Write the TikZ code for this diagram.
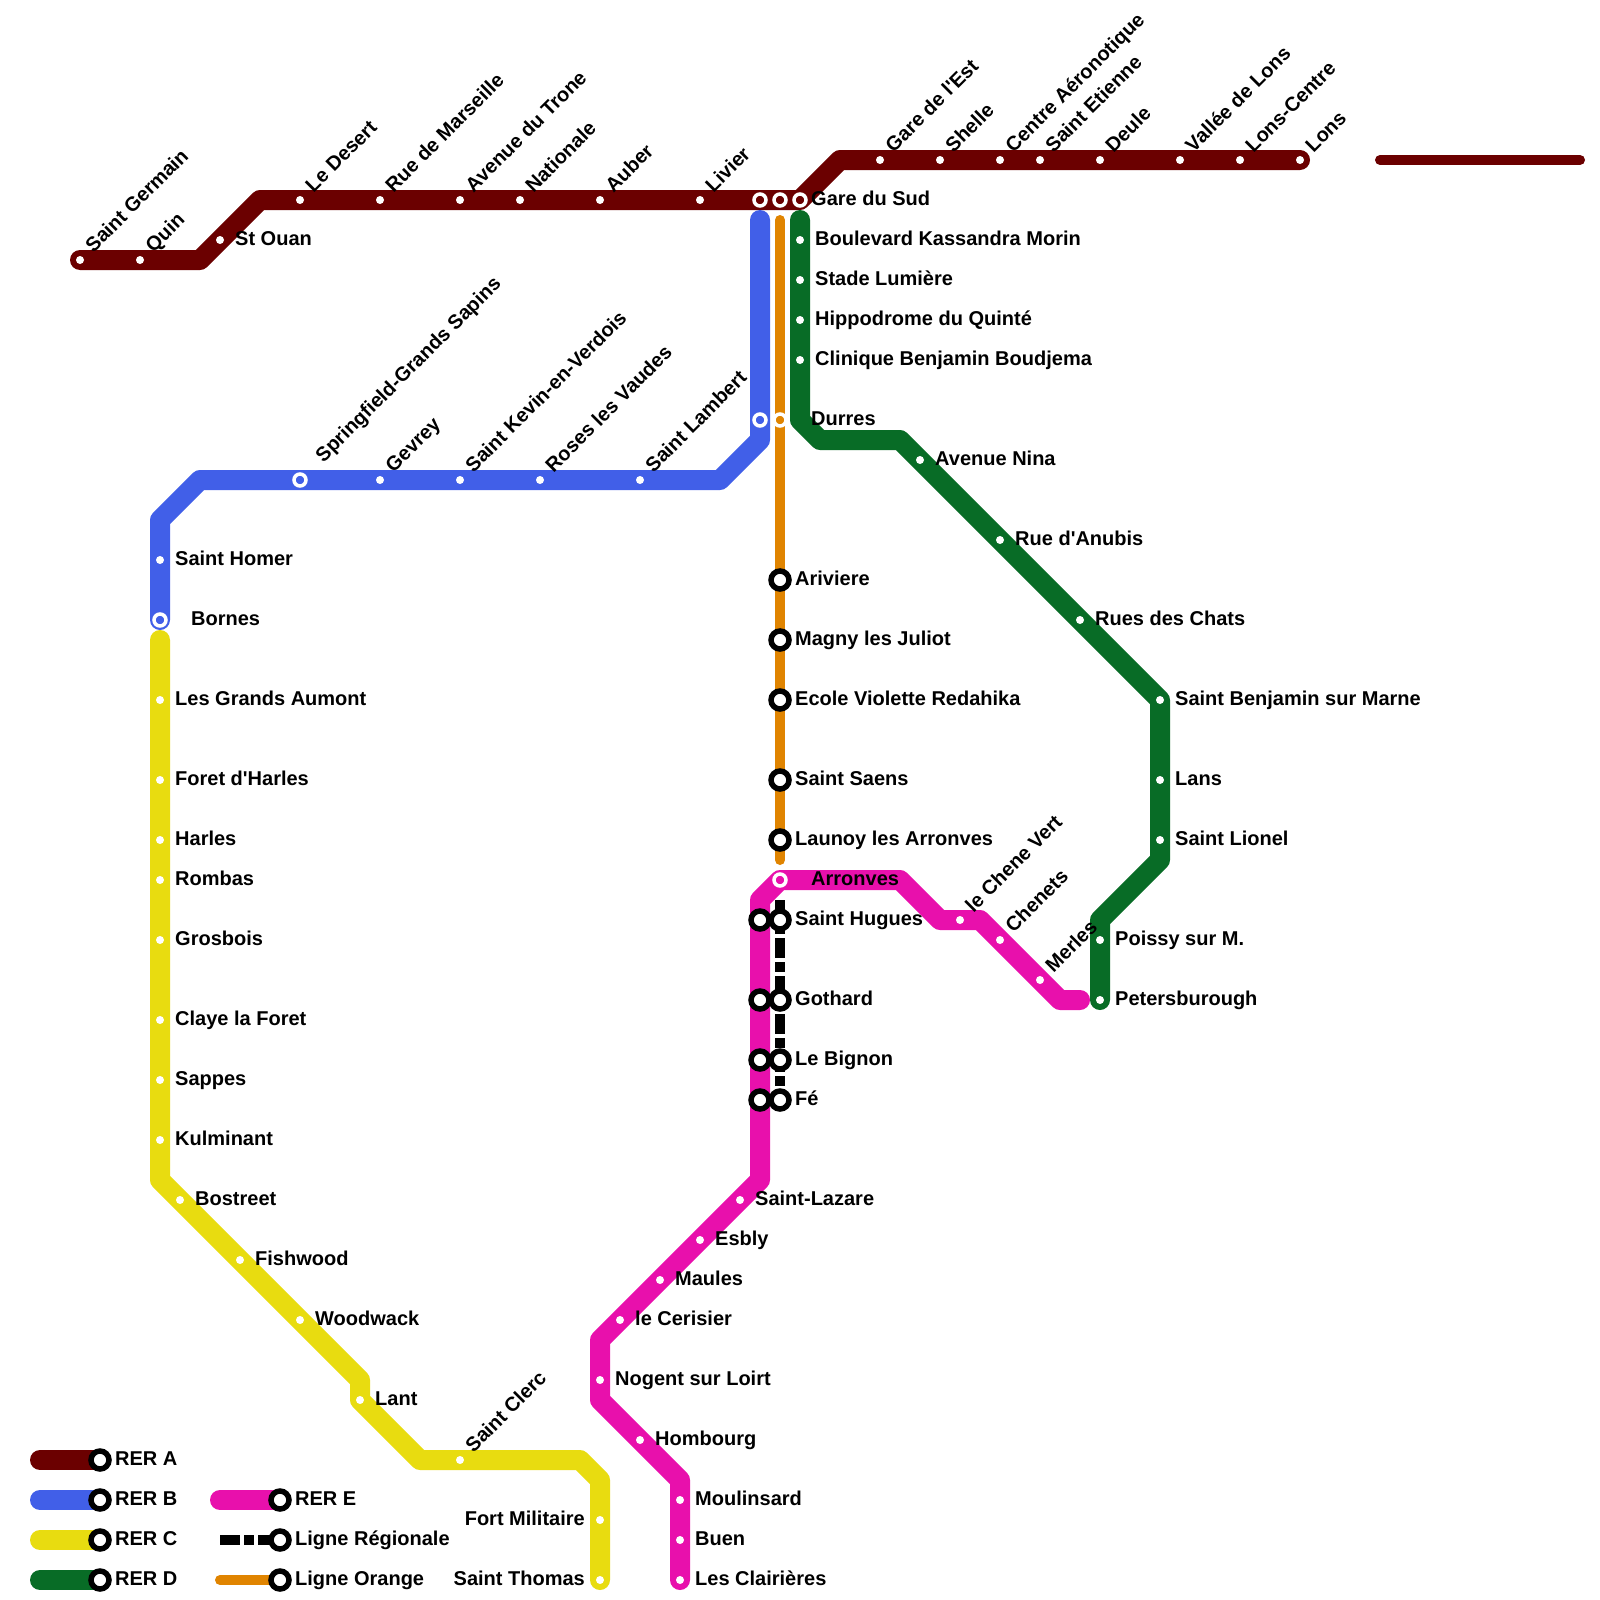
\documentclass[tikz,border=0pt]{standalone}
\usepackage{fontspec}
\setmainfont{Liberation Sans}[BoldFont={Liberation Sans Bold},Ligatures=TeXOff]
\definecolor{rera}{HTML}{6B0000}
\definecolor{rerb}{HTML}{415FE8}
\definecolor{rerc}{HTML}{E8DC10}
\definecolor{rerd}{HTML}{086C26}
\definecolor{rere}{HTML}{E810AC}
\definecolor{lorange}{HTML}{E08400}
\tikzset{
  railthick/.style={line width=20pt,line cap=round,line join=round},
  railthin/.style={line width=10pt,line cap=round,line join=round},
  regio/.style={line width=10pt,line cap=butt,black,dash pattern=on 20pt off 4pt on 10pt off 4pt},
  stdot/.style={circle,fill=white,draw=none,inner sep=0pt,minimum size=8pt},
  wring/.style={circle,draw=white,line width=3.5pt,inner sep=0pt,minimum size=12pt},
  bring/.style={circle,draw=black,fill=white,line width=5.5pt,inner sep=0pt,minimum size=18pt},
  txt/.style={font=\fontsize{20pt}{22pt}\selectfont\bfseries,inner sep=0pt,text=black},
  lr/.style={txt,xshift=15pt,yshift=-5pt,anchor=base west},
  ll/.style={txt,xshift=-15pt,yshift=-5pt,anchor=base east},
  lu/.style={txt,xshift=13.5pt,yshift=6.5pt,rotate=45,anchor=base west},
}
\begin{document}
\begin{tikzpicture}[x=1pt,y=-1pt]
\useasboundingbox (0,0) rectangle (1600,1600);
\fill[white] (0,0) rectangle (1600,1600);
% --- line A
\coordinate (sg) at (80,260);
\coordinate (qn) at (140,260);
\coordinate (a1) at (200,260);
\coordinate (so) at (220,240);
\coordinate (a2) at (260,200);
\coordinate (ld) at (300,200);
\coordinate (rm) at (380,200);
\coordinate (at) at (460,200);
\coordinate (na) at (520,200);
\coordinate (au) at (600,200);
\coordinate (li) at (700,200);
\coordinate (xab) at (760,200);
\coordinate (xao) at (780,200);
\coordinate (gs) at (800,200);
\coordinate (a3) at (840,160);
\coordinate (ge) at (880,160);
\coordinate (sh) at (940,160);
\coordinate (ca) at (1000,160);
\coordinate (se) at (1040,160);
\coordinate (de) at (1100,160);
\coordinate (vl) at (1180,160);
\coordinate (lc) at (1240,160);
\coordinate (lo) at (1300,160);
\coordinate (a4) at (1380,160);
\coordinate (a5) at (1580,160);
% --- line B
\coordinate (b0) at (760,220);
\coordinate (xbo) at (760,420);
\coordinate (b1) at (760,440);
\coordinate (b2) at (720,480);
\coordinate (sl) at (640,480);
\coordinate (rv) at (540,480);
\coordinate (sk) at (460,480);
\coordinate (gv) at (380,480);
\coordinate (sp) at (300,480);
\coordinate (b3) at (200,480);
\coordinate (b4) at (160,520);
\coordinate (hm) at (160,560);
\coordinate (bn) at (160,620);
% --- line C
\coordinate (c0) at (160,640);
\coordinate (ga) at (160,700);
\coordinate (fh) at (160,780);
\coordinate (ha) at (160,840);
\coordinate (ro) at (160,880);
\coordinate (gr) at (160,940);
\coordinate (cf) at (160,1020);
\coordinate (sa) at (160,1080);
\coordinate (ku) at (160,1140);
\coordinate (c1) at (160,1180);
\coordinate (bo) at (180,1200);
\coordinate (fw) at (240,1260);
\coordinate (ww) at (300,1320);
\coordinate (c2) at (360,1380);
\coordinate (la) at (360,1400);
\coordinate (c3) at (420,1460);
\coordinate (sc) at (460,1460);
\coordinate (c4) at (580,1460);
\coordinate (c5) at (600,1480);
\coordinate (fm) at (600,1520);
\coordinate (st) at (600,1580);
% --- line D
\coordinate (d0) at (800,220);
\coordinate (bk) at (800,240);
\coordinate (sm) at (800,280);
\coordinate (hq) at (800,320);
\coordinate (cb) at (800,360);
\coordinate (du) at (800,420);
\coordinate (d1) at (820,440);
\coordinate (d2) at (900,440);
\coordinate (an) at (920,460);
\coordinate (ra) at (1000,540);
\coordinate (rc) at (1080,620);
\coordinate (sb) at (1160,700);
\coordinate (ln) at (1160,780);
\coordinate (sn) at (1160,840);
\coordinate (d3) at (1160,860);
\coordinate (d4) at (1100,920);
\coordinate (ps) at (1100,940);
\coordinate (pb) at (1100,1000);
% --- line E
\coordinate (e0) at (1080,1000);
\coordinate (e1) at (1060,1000);
\coordinate (me) at (1040,980);
\coordinate (cn) at (1000,940);
\coordinate (e2) at (980,920);
\coordinate (cv) at (960,920);
\coordinate (e3) at (940,920);
\coordinate (e4) at (900,880);
\coordinate (ar) at (780,880);
\coordinate (e5) at (760,900);
\coordinate (xe1) at (760,920);
\coordinate (xe2) at (760,1000);
\coordinate (xe3) at (760,1060);
\coordinate (xe4) at (760,1100);
\coordinate (e6) at (760,1180);
\coordinate (sz) at (740,1200);
\coordinate (es) at (700,1240);
\coordinate (ma) at (660,1280);
\coordinate (ce) at (620,1320);
\coordinate (e7) at (600,1340);
\coordinate (nl) at (600,1380);
\coordinate (e8) at (600,1400);
\coordinate (hb) at (640,1440);
\coordinate (e9) at (680,1480);
\coordinate (ml) at (680,1500);
\coordinate (bu) at (680,1540);
\coordinate (lr) at (680,1580);
% --- orange and regional
\coordinate (o0) at (780,220);
\coordinate (xoo) at (780,420);
\coordinate (av) at (780,580);
\coordinate (mj) at (780,640);
\coordinate (ev) at (780,700);
\coordinate (ss) at (780,780);
\coordinate (lz) at (780,840);
\coordinate (o1) at (780,860);
\coordinate (r0) at (780,900);
\coordinate (hu) at (780,920);
\coordinate (go) at (780,1000);
\coordinate (bg) at (780,1060);
\coordinate (fe) at (780,1100);
% --- legend points
\coordinate (kas) at (40,1460);  \coordinate (kae) at (100,1460);
\coordinate (kbs) at (40,1500);  \coordinate (kbe) at (100,1500);
\coordinate (kcs) at (40,1540);  \coordinate (kce) at (100,1540);
\coordinate (kds) at (40,1580);  \coordinate (kde) at (100,1580);
\coordinate (kes) at (220,1500); \coordinate (kee) at (280,1500);
\coordinate (krs) at (220,1540); \coordinate (kre) at (280,1540);
\coordinate (kos) at (220,1580); \coordinate (koe) at (280,1580);
% --- rails
\draw[railthin,rera] (a4) -- (a5);
\draw[railthick,rera] (sg) -- (a1) -- (a2) -- (gs) -- (a3) -- (lo);
\draw[railthin,lorange] (o0) -- (o1);
\draw[railthick,rerb] (b0) -- (b1) -- (b2) -- (b3) -- (b4) -- (bn);
\draw[railthick,rerc] (c0) -- (c1) -- (c2) -- (la) -- (c3) -- (c4) -- (c5) -- (st);
\draw[railthick,rerd] (d0) -- (du) -- (d1) -- (d2) -- (sb) -- (d3) -- (d4) -- (pb);
\draw[railthick,rere] (e0) -- (e1) -- (e2) -- (e3) -- (e4) -- (ar) -- (e5) -- (e6) -- (e7) -- (e8) -- (e9) -- (lr);
\draw[regio] (r0) -- (fe);
% --- legend rails
\draw[railthick,rera] (kas) -- (kae);
\draw[railthick,rerb] (kbs) -- (kbe);
\draw[railthick,rerc] (kcs) -- (kce);
\draw[railthick,rerd] (kds) -- (kde);
\draw[railthick,rere] (kes) -- (kee);
\draw[regio] (krs) -- (kre);
\draw[railthin,lorange] (kos) -- (koe);
% --- plain stations
\foreach \p in {sg,qn,so,ld,rm,at,na,au,li,ge,sh,ca,se,de,vl,lc,lo,
  sl,rv,sk,gv,hm,ga,fh,ha,ro,gr,cf,sa,ku,bo,fw,ww,la,sc,fm,st,
  bk,sm,hq,cb,an,ra,rc,sb,ln,sn,ps,pb,
  me,cn,cv,sz,es,ma,ce,nl,hb,ml,bu,lr}
  \node[stdot] (dot-\p) at (\p) {};
% --- white-ring stations
\node[wring,fill=rera] (rab) at (xab) {};
\node[wring,fill=rera] (rao) at (xao) {};
\node[wring,fill=rera] (rgs) at (gs) {};
\node[wring,fill=rerb] (rbo) at (xbo) {};
\node[wring,fill=lorange] (roo) at (xoo) {};
\node[wring,fill=rerb] (rsp) at (sp) {};
\node[wring,fill=rerb] (rbn) at (bn) {};
\node[wring,fill=rere] (rar) at (ar) {};
% --- black-ring stations
\foreach \p in {av,mj,ev,ss,lz,hu,go,bg,fe,xe1,xe2,xe3,xe4,kae,kbe,kce,kde,kee,kre,koe}
  \node[bring] (ring-\p) at (\p) {};
% --- labels above
\node[lu] (l-sg) at (sg) {Saint Germain};
\node[lu] (l-qn) at (qn) {Quin};
\node[lu] (l-ld) at (ld) {Le Desert};
\node[lu] (l-rm) at (rm) {Rue de Marseille};
\node[lu] (l-at) at (at) {Avenue du Trone};
\node[lu] (l-na) at (na) {Nationale};
\node[lu] (l-au) at (au) {Auber};
\node[lu] (l-li) at (li) {Livier};
\node[lu] (l-ge) at (ge) {Gare de l'Est};
\node[lu] (l-sh) at (sh) {Shelle};
\node[lu] (l-ca) at (ca) {Centre Aéronotique};
\node[lu] (l-se) at (se) {Saint Etienne};
\node[lu] (l-de) at (de) {Deule};
\node[lu] (l-vl) at (vl) {Vallée de Lons};
\node[lu] (l-lc) at (lc) {Lons-Centre};
\node[lu] (l-lo) at (lo) {Lons};
\node[lu] (l-sl) at (sl) {Saint Lambert};
\node[lu] (l-rv) at (rv) {Roses les Vaudes};
\node[lu] (l-sk) at (sk) {Saint Kevin-en-Verdois};
\node[lu] (l-gv) at (gv) {Gevrey};
\node[xshift=10pt,yshift=10pt,lu] (l-sp) at (sp) {Springfield-Grands Sapins};
\node[lu] (l-sc) at (sc) {Saint Clerc};
\node[lu] (l-cv) at (cv) {le Chene Vert};
\node[lu] (l-cn) at (cn) {Chenets};
\node[lu] (l-me) at (me) {Merles};
% --- labels right
\node[lr] (l-so) at (so) {St Ouan};
\node[lr,xshift=-4pt] (l-gs) at (gs) {Gare du Sud};
\node[lr] (l-bk) at (bk) {Boulevard Kassandra Morin};
\node[lr] (l-sm) at (sm) {Stade Lumière};
\node[lr] (l-hq) at (hq) {Hippodrome du Quinté};
\node[lr] (l-cb) at (cb) {Clinique Benjamin Boudjema};
\node[lr,xshift=-4pt] (l-du) at (du) {Durres};
\node[lr] (l-an) at (an) {Avenue Nina};
\node[lr] (l-ra) at (ra) {Rue d'Anubis};
\node[lr] (l-rc) at (rc) {Rues des Chats};
\node[lr] (l-sb) at (sb) {Saint Benjamin sur Marne};
\node[lr] (l-ln) at (ln) {Lans};
\node[lr] (l-sn) at (sn) {Saint Lionel};
\node[lr] (l-ps) at (ps) {Poissy sur M.};
\node[lr] (l-pb) at (pb) {Petersburough};
\node[lr] (l-hm) at (hm) {Saint Homer};
\node[lr,xshift=16pt] (l-bn) at (bn) {Bornes};
\node[lr] (l-ga) at (ga) {Les Grands Aumont};
\node[lr] (l-fh) at (fh) {Foret d'Harles};
\node[lr] (l-ha) at (ha) {Harles};
\node[lr] (l-ro) at (ro) {Rombas};
\node[lr] (l-gr) at (gr) {Grosbois};
\node[lr] (l-cf) at (cf) {Claye la Foret};
\node[lr] (l-sa) at (sa) {Sappes};
\node[lr] (l-ku) at (ku) {Kulminant};
\node[lr] (l-bo) at (bo) {Bostreet};
\node[lr] (l-fw) at (fw) {Fishwood};
\node[lr] (l-ww) at (ww) {Woodwack};
\node[lr] (l-la) at (la) {Lant};
\node[lr] (l-av) at (av) {Ariviere};
\node[lr] (l-mj) at (mj) {Magny les Juliot};
\node[lr] (l-ev) at (ev) {Ecole Violette Redahika};
\node[lr] (l-ss) at (ss) {Saint Saens};
\node[lr] (l-lz) at (lz) {Launoy les Arronves};
\node[lr,xshift=16pt] (l-ar) at (ar) {Arronves};
\node[lr] (l-hu) at (hu) {Saint Hugues};
\node[lr] (l-go) at (go) {Gothard};
\node[lr] (l-bg) at (bg) {Le Bignon};
\node[lr] (l-fe) at (fe) {Fé};
\node[lr] (l-sz) at (sz) {Saint-Lazare};
\node[lr] (l-es) at (es) {Esbly};
\node[lr] (l-ma) at (ma) {Maules};
\node[lr] (l-ce) at (ce) {le Cerisier};
\node[lr] (l-nl) at (nl) {Nogent sur Loirt};
\node[lr] (l-hb) at (hb) {Hombourg};
\node[lr] (l-ml) at (ml) {Moulinsard};
\node[lr] (l-bu) at (bu) {Buen};
\node[lr] (l-lr) at (lr) {Les Clairières};
% --- labels left
\node[ll] (l-fm) at (fm) {Fort Militaire};
\node[ll] (l-st) at (st) {Saint Thomas};
% --- legend labels
\node[lr] (l-kae) at (kae) {RER A};
\node[lr] (l-kbe) at (kbe) {RER B};
\node[lr] (l-kce) at (kce) {RER C};
\node[lr] (l-kde) at (kde) {RER D};
\node[lr] (l-kee) at (kee) {RER E};
\node[lr] (l-kre) at (kre) {Ligne Régionale};
\node[lr] (l-koe) at (koe) {Ligne Orange};
\end{tikzpicture}
\end{document}
